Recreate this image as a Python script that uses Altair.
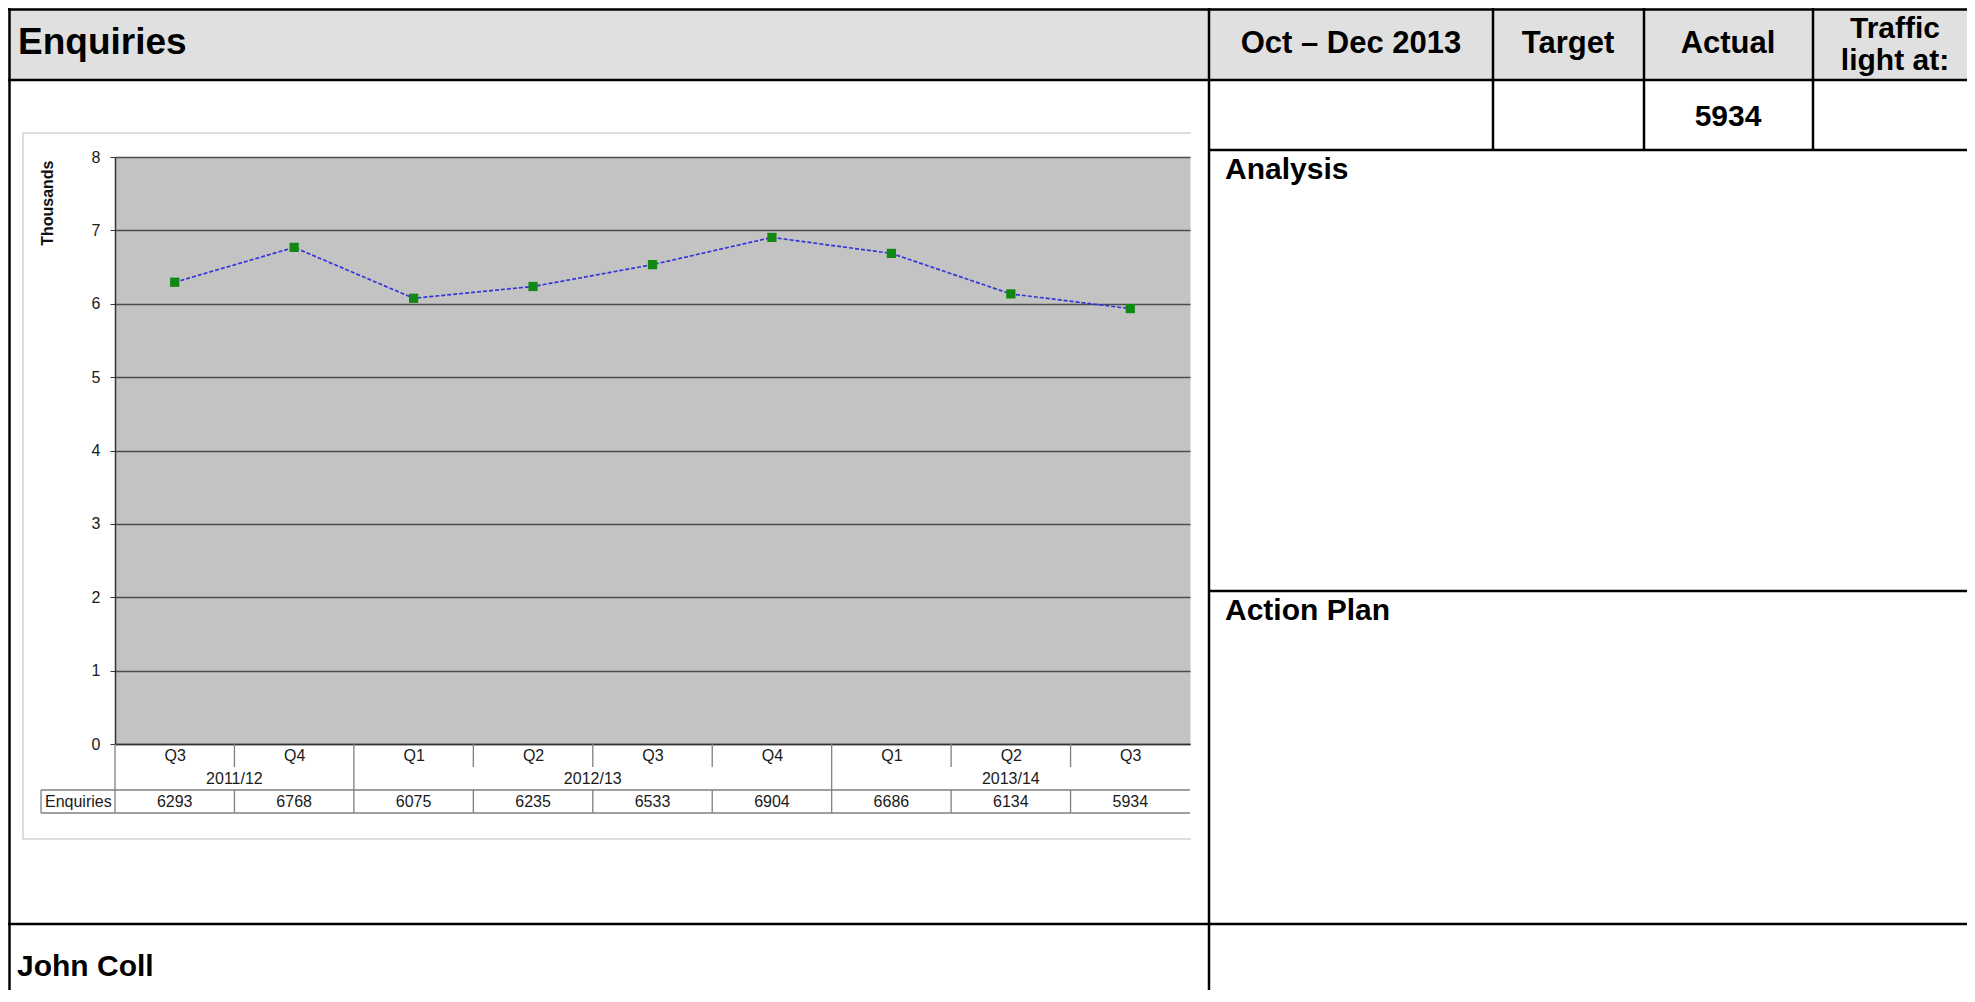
import altair as alt
import pandas as pd

# ---------------- data ----------------
quarters = ["Q3", "Q4", "Q1", "Q2", "Q3", "Q4", "Q1", "Q2", "Q3"]
years = ["2011/12", "2011/12", "2012/13", "2012/13", "2012/13", "2012/13",
         "2013/14", "2013/14", "2013/14"]
enquiries = [6293, 6768, 6075, 6235, 6533, 6904, 6686, 6134, 5934]
y_ticks = [0, 1, 2, 3, 4, 5, 6, 7, 8]
series_name = "Enquiries"
page_title = "Enquiries"
period = "Oct \u2013 Dec 2013"
col_target = "Target"
col_actual = "Actual"
col_light = ["Traffic", "light at:"]
section_analysis = "Analysis"
section_action = "Action Plan"
owner = "John Coll"

df = pd.DataFrame({"quarter": quarters, "year": years, "enquiries": enquiries})
df["pos"] = df.index + 0.5
bounds = pd.DataFrame({
    "pos": list(range(len(years))),
    "group_start": [k == 0 or years[k] != years[k - 1] for k in range(len(years))],
})
one = pd.DataFrame({"_": [0]})

# ---------------- layout ----------------
FONT = "Liberation Sans"
W, H = 1075, 587
PAD_L, PAD_T = 107, 149
CANVAS_W, CANVAS_H = 1959, 982
PAD_R = CANVAS_W - PAD_L - W
PAD_B = CANVAS_H - PAD_T - H


def px(x):  # page x -> plot-relative x
    return x - 8 - PAD_L


def py(y):  # page y -> plot-relative y
    return y - 8 - PAD_T


LEFT = -PAD_L
RIGHT = CANVAS_W - PAD_L
TOP = -PAD_T
BOTTOM = CANVAS_H - PAD_T


def hrule(y, x1, x2, color="#000000", w=2.5):
    return alt.Chart(one).mark_rule(color=color, strokeWidth=w).encode(
        x=alt.value(x1), x2=alt.value(x2), y=alt.value(y))


def vrule(x, y1, y2, color="#000000", w=2.5):
    return alt.Chart(one).mark_rule(color=color, strokeWidth=w).encode(
        x=alt.value(x), y=alt.value(y1), y2=alt.value(y2))


def label(text, x, y, size, align="left", bold=True, color="#000000"):
    return alt.Chart(one).mark_text(
        text=text, align=align, baseline="middle", fontSize=size,
        fontWeight="bold" if bold else "normal", font=FONT, color=color
    ).encode(x=alt.value(x), y=alt.value(y))


xscale = alt.Scale(domain=[0, len(quarters)], nice=False, zero=False)
yscale = alt.Scale(domain=[0, 8], nice=False)
label_expr = "[" + ",".join("'%s'" % q for q in quarters) + "][floor(datum.value)]"

x_axis = alt.Axis(values=list(df["pos"]), labelExpr=label_expr, title=None,
                  grid=False, ticks=False, tickSize=0, labelPadding=11,
                  labelBaseline="middle", labelFont=FONT, labelFontSize=16,
                  labelColor="#1a1a1a", domainColor="#333333", domainWidth=1.5,
                  labelFlush=False, labelOverlap=False)
y_axis = alt.Axis(values=y_ticks, title="Thousands", titleFont=FONT,
                  titleFontSize=16, titleFontWeight="bold", titleColor="#111111",
                  titleAngle=-90, titleX=-68, titleY=3, titleAlign="right",
                  titleBaseline="middle", grid=True, gridColor="#4d4d4d",
                  gridWidth=1.3, domainColor="#333333", domainWidth=1.5,
                  tickColor="#333333", tickSize=5, labelPadding=10,
                  labelFont=FONT, labelFontSize=16, labelColor="#1a1a1a")

x_enc = alt.X("pos:Q", scale=xscale, axis=x_axis)
y_enc = alt.Y("th:Q", scale=yscale, axis=y_axis)

base = alt.Chart(df).transform_calculate(th="datum.enquiries / 1000")

line = base.mark_line(color="#3535d8", strokeDash=[4, 2], strokeWidth=1.7).encode(
    x=x_enc, y=y_enc)
points = base.mark_point(shape="square", filled=True, size=85, opacity=1,
                         color="#118811").encode(x=x_enc, y=y_enc)

# ----- data table under the chart -----
TBL_TOP, TBL_BOT = py(790), py(813)
QROW_BOT = py(767)
tcol = "#7f7f7f"
sep_q = alt.Chart(bounds).mark_rule(color=tcol, strokeWidth=1.3).encode(
    x=x_enc, y=alt.value(H), y2=alt.value(QROW_BOT))
sep_t = alt.Chart(bounds).mark_rule(color=tcol, strokeWidth=1.3).encode(
    x=x_enc, y=alt.value(TBL_TOP), y2=alt.value(TBL_BOT))
sep_g = alt.Chart(bounds).transform_filter("datum.group_start").mark_rule(
    color=tcol, strokeWidth=1.3).encode(
    x=x_enc, y=alt.value(QROW_BOT), y2=alt.value(TBL_TOP))

year_labels = alt.Chart(df).transform_aggregate(
    pos="mean(pos)", groupby=["year"]).mark_text(
    font=FONT, fontSize=16, color="#1a1a1a", baseline="middle").encode(
    x=x_enc, y=alt.value(py(779)), text="year:N")

values_txt = alt.Chart(df).mark_text(
    font=FONT, fontSize=16, color="#1a1a1a", baseline="middle").encode(
    x=x_enc, y=alt.value(py(802)), text="enquiries:Q")

table_lines = [
    hrule(TBL_TOP, px(41), W, tcol, 1.3),
    hrule(TBL_BOT, px(41), W, tcol, 1.3),
    vrule(px(41), TBL_TOP, TBL_BOT, tcol, 1.3),
]
row_label = label(series_name, px(45), py(802), 16, bold=False, color="#1a1a1a")

# ----- chart frame (light) -----
fcol = "#d2d2d2"
frame = [
    hrule(py(133), px(23), px(1191), fcol, 1.5),
    hrule(py(839), px(23), px(1191), fcol, 1.5),
    vrule(px(23), py(133), py(839), fcol, 1.5),
]

# ----- form -----
header_bg = alt.Chart(one).mark_rect(color="#e0e0e0").encode(
    x=alt.value(LEFT), x2=alt.value(RIGHT), y=alt.value(TOP), y2=alt.value(py(80)))

form_lines = [
    hrule(TOP + 1.5, LEFT, RIGHT),
    vrule(LEFT + 1.5, TOP, BOTTOM),
    hrule(py(80), LEFT, RIGHT),
    vrule(px(1209), TOP, BOTTOM),
    vrule(px(1493), TOP, py(150)),
    vrule(px(1644), TOP, py(150)),
    vrule(px(1813), TOP, py(150)),
    hrule(py(150), px(1209), RIGHT),
    hrule(py(591), px(1209), RIGHT),
    hrule(py(924), LEFT, RIGHT),
]

form_text = [
    label(page_title, px(18), py(43), 37),
    label(period, px(1351), py(44), 31, align="center"),
    label(col_target, px(1568), py(44), 31, align="center"),
    label(col_actual, px(1728), py(44), 31, align="center"),
    label(col_light[0], px(1895), py(29), 30, align="center"),
    label(col_light[1], px(1895), py(61), 30, align="center"),
    label(str(enquiries[-1]), px(1728), py(117), 30, align="center"),
    label(section_analysis, px(1225), py(170), 30),
    label(section_action, px(1225), py(611), 30),
    label(owner, px(17), py(967), 30),
]

chart = alt.layer(
    header_bg, *frame, line, points, sep_q, sep_t, sep_g, year_labels,
    values_txt, *table_lines, row_label, *form_lines, *form_text
).properties(
    width=W, height=H,
    autosize=alt.AutoSizeParams(type="none"),
    padding={"left": PAD_L, "top": PAD_T, "right": PAD_R, "bottom": PAD_B},
    background="white",
).configure_view(fill="#c3c3c3", stroke="transparent")

chart.save("out.html", embed_options={"renderer": "svg", "actions": False})
